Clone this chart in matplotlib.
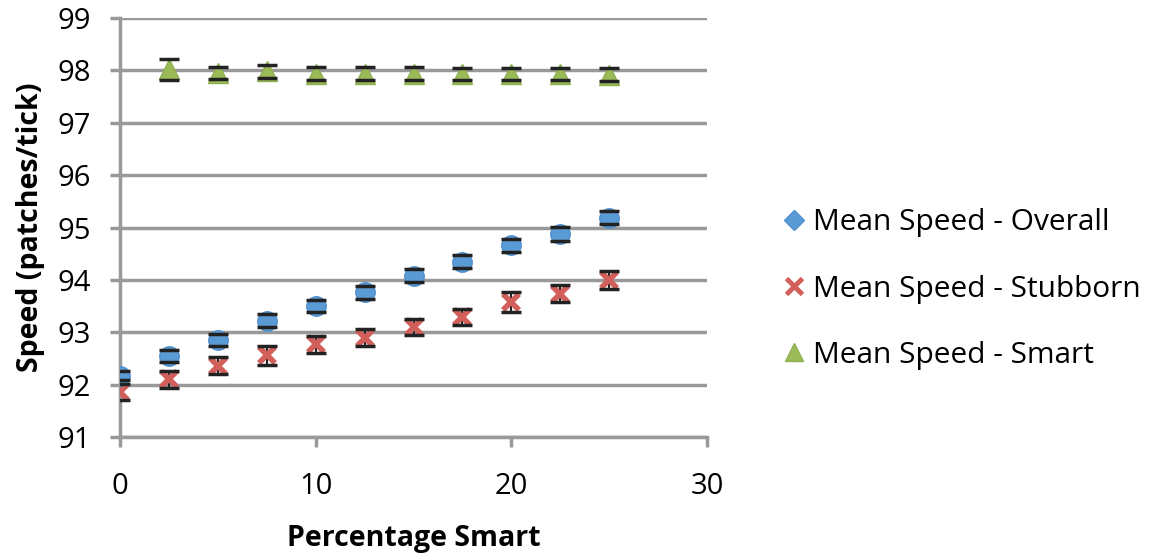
import numpy as np
import matplotlib.pyplot as plt
from matplotlib.lines import Line2D

plt.rcParams['font.family'] = ['Open Sans', 'DejaVu Sans']

# Percentage of smart drivers
pct = [0, 2.5, 5, 7.5, 10, 12.5, 15, 17.5, 20, 22.5, 25]
pct_smart = [2.5, 5, 7.5, 10, 12.5, 15, 17.5, 20, 22.5, 25]

# Mean speeds (patches/tick) and error margins
overall = [92.17, 92.55, 92.85, 93.22, 93.50, 93.76, 94.08, 94.35, 94.66, 94.88, 95.19]
overall_err = [0.09, 0.11, 0.11, 0.12, 0.12, 0.12, 0.12, 0.12, 0.13, 0.13, 0.13]
stubborn = [91.86, 92.10, 92.36, 92.56, 92.77, 92.90, 93.10, 93.29, 93.57, 93.74, 94.00]
stubborn_err = [0.16, 0.16, 0.16, 0.18, 0.16, 0.16, 0.16, 0.16, 0.19, 0.17, 0.17]
smart = [98.02, 97.95, 97.98, 97.94, 97.94, 97.94, 97.93, 97.93, 97.93, 97.92]
smart_err = [0.20, 0.12, 0.12, 0.12, 0.12, 0.12, 0.12, 0.12, 0.12, 0.12]

blue = '#5b9bd5'
red = '#d35f5a'
green = '#9bbb59'
grid_col = '#999999'

fig = plt.figure(figsize=(11.54, 5.58), dpi=100)
ax = fig.add_axes([0.104, 0.2168, 0.5087, 0.7509])

# markers sit between the error bar stems (below) and caps (above)
ax.plot(pct, stubborn, ls='none', marker='x', ms=11, mew=4, color=red, zorder=3)
ax.plot(pct, overall, ls='none', marker='o', ms=14, mfc=blue, mec='#4f8fcf',
        mew=1, zorder=3)
ax.plot(pct_smart, smart, ls='none', marker='^', ms=15, mfc=green,
        mec='#8fb050', mew=1, zorder=3)

for xs, ys, err in [(pct, stubborn, stubborn_err), (pct, overall, overall_err),
                    (pct_smart, smart, smart_err)]:
    _, caps, bars = ax.errorbar(xs, ys, yerr=err, ls='none', ecolor='#222222',
                                elinewidth=1.5, capsize=7, capthick=2.5)
    for b in bars:
        b.set_zorder(2.5)
    for c in caps:
        c.set_zorder(5)

ax.set_xlim(0, 30)
ax.set_ylim(91, 99)
ax.set_xticks([0, 10, 20, 30])
ax.set_yticks(np.arange(91, 100, 1))
ax.yaxis.grid(True, color=grid_col, lw=2.5)
ax.set_axisbelow(True)
for s in ['top', 'right']:
    ax.spines[s].set_visible(False)
for s in ['left', 'bottom']:
    ax.spines[s].set_color(grid_col)
    ax.spines[s].set_linewidth(2.5)
ax.tick_params(axis='both', colors=grid_col, width=2.5, length=7,
               labelsize=21, labelcolor='black')
ax.tick_params(axis='x', pad=18)
ax.tick_params(axis='y', pad=14)
ax.set_xlabel('Percentage Smart', fontsize=20.5, fontweight='bold', labelpad=17)
ax.set_ylabel('Speed (patches/tick)', fontsize=20.5, fontweight='bold', labelpad=9)

handles = [
    Line2D([], [], ls='none', marker='D', ms=10, mfc=blue, mec='#4f8fcf'),
    Line2D([], [], ls='none', marker='x', ms=11, mew=3.5, color=red),
    Line2D([], [], ls='none', marker='^', ms=13, mfc=green, mec='#8fb050'),
]
labels = ['Mean Speed - Overall', 'Mean Speed - Stubborn', 'Mean Speed - Smart']
fig.legend(handles, labels, loc='center left', bbox_to_anchor=(0.670, 0.482),
           frameon=False, fontsize=21.5, handlelength=0.6, handletextpad=0.35,
           labelspacing=1.25, borderaxespad=0)

fig.savefig('out.png', dpi=100)
